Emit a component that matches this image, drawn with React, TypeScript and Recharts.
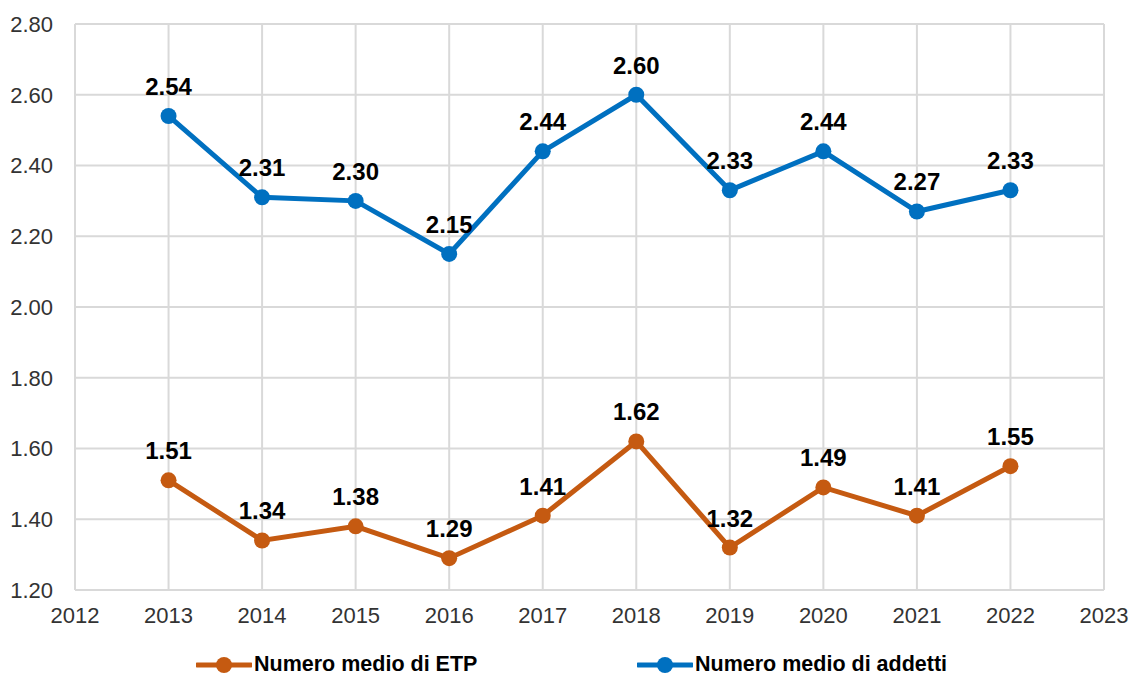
import { LineChart, Line, XAxis, YAxis, CartesianGrid, LabelList, Legend } from 'recharts'

// ── Dati ─────────────────────────────────────────────────
const years = [2013, 2014, 2015, 2016, 2017, 2018, 2019, 2020, 2021, 2022]
const etp = [1.51, 1.34, 1.38, 1.29, 1.41, 1.62, 1.32, 1.49, 1.41, 1.55]
const addetti = [2.54, 2.31, 2.3, 2.15, 2.44, 2.6, 2.33, 2.44, 2.27, 2.33]
const xTicks = [2012, 2013, 2014, 2015, 2016, 2017, 2018, 2019, 2020, 2021, 2022, 2023]
const yTicks = [1.2, 1.4, 1.6, 1.8, 2.0, 2.2, 2.4, 2.6, 2.8]

const BLUE = '#0070C0'
const ORANGE = '#C55A11'
const FONT = '"Liberation Sans", Arial, sans-serif'

const data = years.map((y, i) => ({ year: y, etp: etp[i], addetti: addetti[i] }))

function LegendItem({ color, label }: { color: string; label: string }) {
  return (
    <div style={{ display: 'flex', alignItems: 'center' }}>
      <svg width={56} height={20}>
        <line x1={1} y1={10} x2={55} y2={10} stroke={color} strokeWidth={5} strokeLinecap="round" />
        <circle cx={28} cy={10} r={8} fill={color} />
      </svg>
      <span style={{ fontWeight: 700, fontSize: 21.5, color: '#000', marginLeft: 2 }}>{label}</span>
    </div>
  )
}

function CustomLegend() {
  return (
    <div style={{ position: 'relative', height: 30, fontFamily: FONT }}>
      <div style={{ position: 'absolute', left: 196, top: 0 }}>
        <LegendItem color={ORANGE} label="Numero medio di ETP" />
      </div>
      <div style={{ position: 'absolute', left: 637, top: 0 }}>
        <LegendItem color={BLUE} label="Numero medio di addetti" />
      </div>
    </div>
  )
}

export default function App() {
  const labelStyle = { fontWeight: 700, fontSize: 24, fill: '#000', fontFamily: FONT }
  return (
    <div style={{ position: 'absolute', left: 0, top: 0, background: '#fff' }}>
      <LineChart
        width={1133}
        height={682}
        data={data}
        margin={{ top: 24, right: 29, bottom: 22, left: 15 }}
        style={{ fontFamily: FONT }}
      >
        <CartesianGrid stroke="#d9d9d9" strokeWidth={2} />
        <XAxis
          dataKey="year"
          type="number"
          domain={[2012, 2023]}
          ticks={xTicks}
          axisLine={false}
          tickLine={false}
          tickSize={0}
          tickMargin={17}
          height={40}
          tick={{ fontSize: 22, fill: '#333' }}
        />
        <YAxis
          domain={[1.2, 2.8]}
          ticks={yTicks}
          axisLine={false}
          tickLine={false}
          tickSize={0}
          tickMargin={22}
          width={60}
          tickFormatter={(v: number) => v.toFixed(2)}
          tick={{ fontSize: 22, fill: '#333' }}
        />
        <Legend
          verticalAlign="bottom"
          content={() => <CustomLegend />}
          wrapperStyle={{ left: 0, width: 1133, top: 652 }}
        />
        <Line
          dataKey="etp"
          name="Numero medio di ETP"
          stroke={ORANGE}
          strokeWidth={5}
          dot={{ r: 8, fill: ORANGE, stroke: ORANGE, strokeWidth: 0 }}
          activeDot={false}
          isAnimationActive={false}
        >
          <LabelList dataKey="etp" position="top" offset={21} formatter={(v: number) => v.toFixed(2)} style={labelStyle} />
        </Line>
        <Line
          dataKey="addetti"
          name="Numero medio di addetti"
          stroke={BLUE}
          strokeWidth={5}
          dot={{ r: 8, fill: BLUE, stroke: BLUE, strokeWidth: 0 }}
          activeDot={false}
          isAnimationActive={false}
        >
          <LabelList dataKey="addetti" position="top" offset={21} formatter={(v: number) => v.toFixed(2)} style={labelStyle} />
        </Line>
      </LineChart>
    </div>
  )
}
